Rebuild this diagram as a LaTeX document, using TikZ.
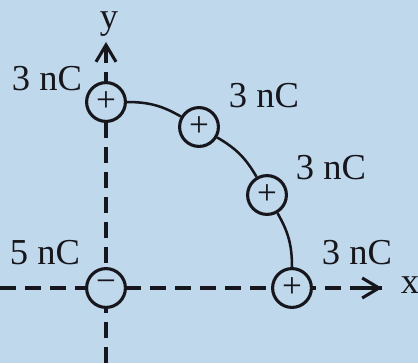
\documentclass[tikz,border=0pt]{standalone}
\usepackage{fontspec}
\setmainfont{Liberation Serif}
\usetikzlibrary{arrows.meta}
\definecolor{bgblue}{RGB}{192,216,236}
\definecolor{ink}{RGB}{22,22,28}
\tikzset{
  charge/.style={circle, draw=ink, fill=bgblue, line width=2.2pt, minimum size=0.97cm,
                 inner sep=0pt, font=\fontsize{25}{25}\selectfont, text=ink},
  qlabel/.style={font=\fontsize{26}{30}\selectfont, text=ink, inner sep=0pt},
  axis/.style={line width=2.2pt, draw=ink, dash pattern=on 0.4cm off 0.225cm},
  axistip/.style={line width=2.2pt, draw=ink, -{Straight Barb[length=0.42cm, width=0.5cm]}},
  rod/.style={line width=1.8pt, draw=ink}
}
\begin{document}
\begin{tikzpicture}[x=0.025cm, y=0.025cm]
        \fill[bgblue] (0,0) rectangle (418,363);
        \useasboundingbox (0,0) rectangle (418,363);

        % axes
        \coordinate (xstart) at (0,75);
        \coordinate (xend) at (382,75);
        \coordinate (ystart) at (106,0);
        \coordinate (yend) at (106,321);
        \draw[axis] (xstart) -- (xend);
        \draw[axis] (ystart) -- (yend);
        \draw[axistip] (362,75) -- (xend);
        \draw[axistip] (106,302) -- (yend);
        \node[qlabel] (xlab) at (410,78) {x};
        \node[qlabel] (ylab) at (109,339) {y};

        % charges on the quarter circle
        \node[charge] (o) at (106,75) {\raisebox{2pt}{−}};
        \node[charge] (q1) at (106,261) {+};
        \node[charge] (q2) at (199,236) {+};
        \node[charge] (q3) at (267,168) {+};
        \node[charge] (q4) at (292,75) {+};

        \draw[rod] (q1) to[bend left=15] (q2);
        \draw[rod] (q2) to[bend left=15] (q3);
        \draw[rod] (q3) to[bend left=15] (q4);

        \node[qlabel] (l1) at (47,284) {3 nC};
        \node[qlabel] (l2) at (264,267) {3 nC};
        \node[qlabel] (l3) at (331,195) {3 nC};
        \node[qlabel] (l4) at (357,110) {3 nC};
        \node[qlabel] (l0) at (45,110) {5 nC};
    \end{tikzpicture}
\end{document}
